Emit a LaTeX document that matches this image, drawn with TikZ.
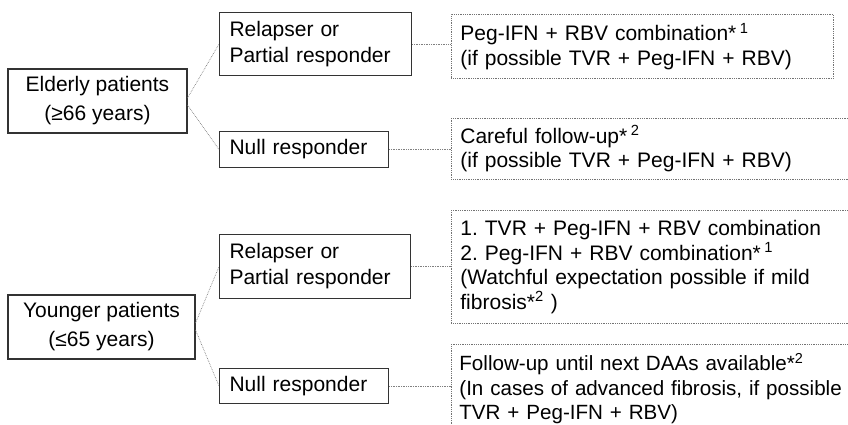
\documentclass[tikz,border=0pt]{standalone}
\usepackage{fontspec}
\setmainfont{Liberation Sans}
\begin{document}
\begin{tikzpicture}[x=1pt,y=-1pt,
  lbox/.style={draw=black!80, line width=1.1pt, anchor=north west, inner xsep=10pt, inner ysep=0pt,
    align=left, font=\fontsize{21}{26}\selectfont},
  cbox/.style={lbox, anchor=center, align=center, inner xsep=0pt, font=\fontsize{21}{29}\selectfont},
  rbox/.style={draw=black!55, line width=0.8pt, densely dotted, anchor=north west, inner xsep=9pt, inner ysep=0pt,
    align=left, font=\fontsize{21}{24.5}\selectfont},
  link/.style={draw=black!50, line width=0.7pt, densely dotted}]
\useasboundingbox (0,0) rectangle (848,425);
\clip (0,0) rectangle (848,425);
% left boxes
\node[cbox, minimum width=179pt, minimum height=64pt] (E) at (97.5,101) {Elderly patients\\(≥66 years)};
\node[cbox, minimum width=187pt, minimum height=64pt] (Y) at (101.5,327) {Younger patients\\(≤65 years)};
% middle boxes
\node[lbox, text width=172pt, minimum height=63pt] (R1) at (219,12) {Relapser or\\Partial responder};
\node[lbox, text width=149pt, minimum height=36pt] (N1) at (219,131) {Null responder};
\node[lbox, text width=171pt, minimum height=64pt] (R2) at (219,234) {Relapser or\\Partial responder};
\node[lbox, text width=149pt, minimum height=35pt] (N2) at (219,368) {Null responder};
% right boxes
\node[rbox, text width=364pt, minimum height=64pt] (P) at (451,14)
  {Peg-IFN + RBV combination*\,\textsuperscript{1}\\(if possible TVR + Peg-IFN + RBV)};
\node[rbox, text width=400pt, minimum height=61pt] (C) at (451,118)
  {Careful follow-up*\,\textsuperscript{2}\\(if possible TVR + Peg-IFN + RBV)};
\node[rbox, text width=400pt, minimum height=113pt] (T) at (451,210)
  {1.\ TVR + Peg-IFN + RBV combination\\2.\ Peg-IFN + RBV combination*\,\textsuperscript{1}\\(Watchful expectation possible if mild\\fibrosis*\textsuperscript{2} )};
\node[rbox, text width=400pt, minimum height=88pt, inner xsep=8pt, font=\fontsize{20.6}{24.5}\selectfont] (F) at (451,344)
  {Follow-up until next DAAs available*\textsuperscript{2}\\(In cases of advanced fibrosis, if possible\\TVR + Peg-IFN + RBV)};
% connectors
\draw[link] ([yshift=3pt]E.east) -- (R1.west);
\draw[link] ([yshift=-4pt]E.east) -- (N1.west);
\draw[link] ([yshift=4pt]Y.east) -- (R2.west);
\draw[link] ([yshift=-3pt]Y.east) -- (N2.west);
\draw[link] (R1.east) -- (R1.east -| P.west);
\draw[link] (N1.east) -- (N1.east -| C.west);
\draw[link] (R2.east) -- (R2.east -| T.west);
\draw[link] (N2.east) -- (N2.east -| F.west);
\end{tikzpicture}
\end{document}
